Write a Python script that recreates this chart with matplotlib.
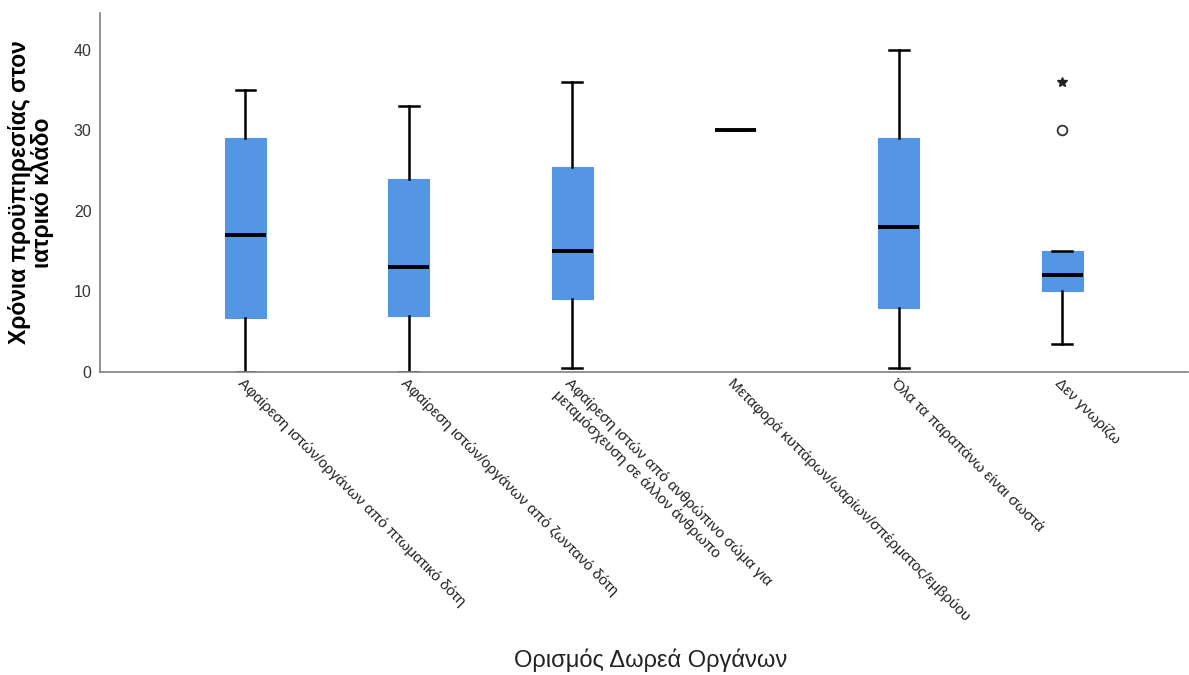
import matplotlib
matplotlib.use("Agg")
import matplotlib.pyplot as plt

# === Δεδομένα ===
categories = [
    "Αφαίρεση ιστών/οργάνων από πτωματικό δότη",
    "Αφαίρεση ιστών/οργάνων από ζωντανό δότη",
    "Αφαίρεση ιστών από ανθρώπινο σώμα για\nμεταμόσχευση σε άλλον άνθρωπο",
    "Μεταφορά κυττάρων/ωαρίων/σπέρματος/εμβρύου",
    "Όλα τα παραπάνω είναι σωστά",
    "Δεν γνωρίζω",
]
whis_low = [0, 0, 0.5, 30, 0.5, 3.5]
q1 = [6.7, 7, 9, 30, 8, 10]
medians = [17, 13, 15, 30, 18, 12]
q3 = [29, 24, 25.5, 30, 29, 15]
whis_high = [35, 33, 36, 30, 40, 15]
outliers = [[], [], [], [], [], [30]]
extremes = [[], [], [], [], [], [36]]

yticks = [0, 10, 20, 30, 40]
BOX_COLOR = "#5596e4"

plt.rcParams['font.family'] = ['Liberation Sans', 'DejaVu Sans']

fig = plt.figure(figsize=(11.89, 6.75), dpi=100)
ax = fig.add_axes([0.0841, 0.449, 0.915, 0.532])

stats = []
for i, name in enumerate(categories):
    stats.append({
        "label": name, "whislo": whis_low[i], "q1": q1[i], "med": medians[i],
        "q3": q3[i], "whishi": whis_high[i], "fliers": outliers[i],
    })

pos = list(range(len(categories)))
ax.bxp(stats, positions=pos, widths=0.25, patch_artist=True,
       showfliers=True,
       boxprops=dict(facecolor=BOX_COLOR, edgecolor=BOX_COLOR, linewidth=0.8),
       medianprops=dict(color="black", linewidth=2.8, solid_capstyle="butt"),
       whiskerprops=dict(color="black", linewidth=1.8),
       capprops=dict(color="black", linewidth=1.8),
       capwidths=0.12,
       flierprops=dict(marker="o", markerfacecolor="white", markeredgecolor="#333333",
                       markersize=7, markeredgewidth=1.3))

# ακραίες τιμές (αστερίσκος)
for i, vals in enumerate(extremes):
    if vals:
        ax.plot([pos[i]] * len(vals), vals, marker="*", linestyle="none",
                color="#222222", markersize=7)

ax.set_xlim(-0.89, 5.77)
ax.set_ylim(0, 44.6)
ax.set_yticks(yticks)
ax.tick_params(axis="y", length=0, labelsize=11.5, labelcolor="#333333", pad=6)
ax.tick_params(axis="x", length=0, pad=3)
ax.set_xticks(pos)
ax.set_xticklabels(categories, rotation=-45, ha="left", va="top",
                   rotation_mode="anchor", fontsize=11, color="#222222")

for s in ["top", "right"]:
    ax.spines[s].set_visible(False)
for s in ["left", "bottom"]:
    ax.spines[s].set_color("#808080")
    ax.spines[s].set_linewidth(1.2)

ax.set_ylabel("Χρόνια προϋπηρεσίας στον\nιατρικό κλάδο", fontsize=16.5,
              fontweight="bold", labelpad=14, linespacing=1.0)
fig.text(0.547, 0.005, "Ορισμός Δωρεά Οργάνων", ha="center", va="bottom", fontsize=17,
         color="#222222")

fig.savefig("out.png", dpi=100)
